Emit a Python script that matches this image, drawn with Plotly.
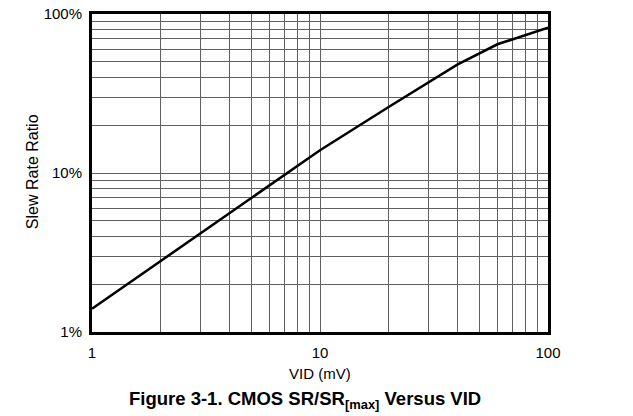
import plotly.graph_objects as go

vid_mv = [1, 2, 3, 5, 7, 10, 20, 30, 40, 60, 100]
sr_ratio_pct = [1.4, 2.8, 4.2, 7.0, 9.8, 13.9, 26.0, 37.0, 48.0, 64.5, 82.0]

x_tickvals = [1, 10, 100]
x_ticktext = ["1", "10", "100"]
y_tickvals = [1, 10, 100]
y_ticktext = ["1%", "10%", "100%"]

fig = go.Figure()
fig.add_trace(go.Scatter(x=vid_mv, y=sr_ratio_pct, mode="lines",
                         line=dict(color="black", width=2.5), showlegend=False))

grid = "#606060"
fig.update_xaxes(type="log", range=[0, 2], tickvals=x_tickvals, ticktext=x_ticktext,
                 showgrid=True, gridcolor=grid, gridwidth=1,
                 minor=dict(dtick="D1", showgrid=True, gridcolor=grid, gridwidth=1),
                 showline=True, linecolor="black", linewidth=3, mirror=True,
                 ticks="", ticklabelstandoff=5, automargin=False,
                 tickfont=dict(size=15, color="black"), zeroline=False)
fig.update_yaxes(type="log", range=[0, 2], tickvals=y_tickvals, ticktext=y_ticktext,
                 showgrid=True, gridcolor=grid, gridwidth=1,
                 minor=dict(dtick="D1", showgrid=True, gridcolor=grid, gridwidth=1),
                 showline=True, linecolor="black", linewidth=3, mirror=True,
                 ticks="", ticklabelstandoff=4, automargin=False,
                 tickfont=dict(size=15, color="black"), zeroline=False)

fig.add_annotation(text="VID (mV)", x=0.5, y=-0.13, xref="paper", yref="paper",
                   showarrow=False, font=dict(size=15, color="black"), yanchor="middle")
fig.add_annotation(text="Slew Rate Ratio", x=-0.153, y=0.505, xref="paper", yref="paper",
                   showarrow=False, textangle=-90, font=dict(size=16, color="black"))
fig.add_annotation(text="<b>Figure 3-1. CMOS SR/SR<sub>[max]</sub> Versus VID</b>",
                   x=0.467, y=-0.214, xref="paper", yref="paper", showarrow=False,
                   font=dict(size=18.5, color="black"), yanchor="middle")

fig.update_layout(width=633, height=416, margin=dict(l=92, r=85, t=14, b=84),
                  plot_bgcolor="white", paper_bgcolor="white",
                  font=dict(family="Liberation Sans, Arial, sans-serif", color="black"))
fig.write_html("out.html")
